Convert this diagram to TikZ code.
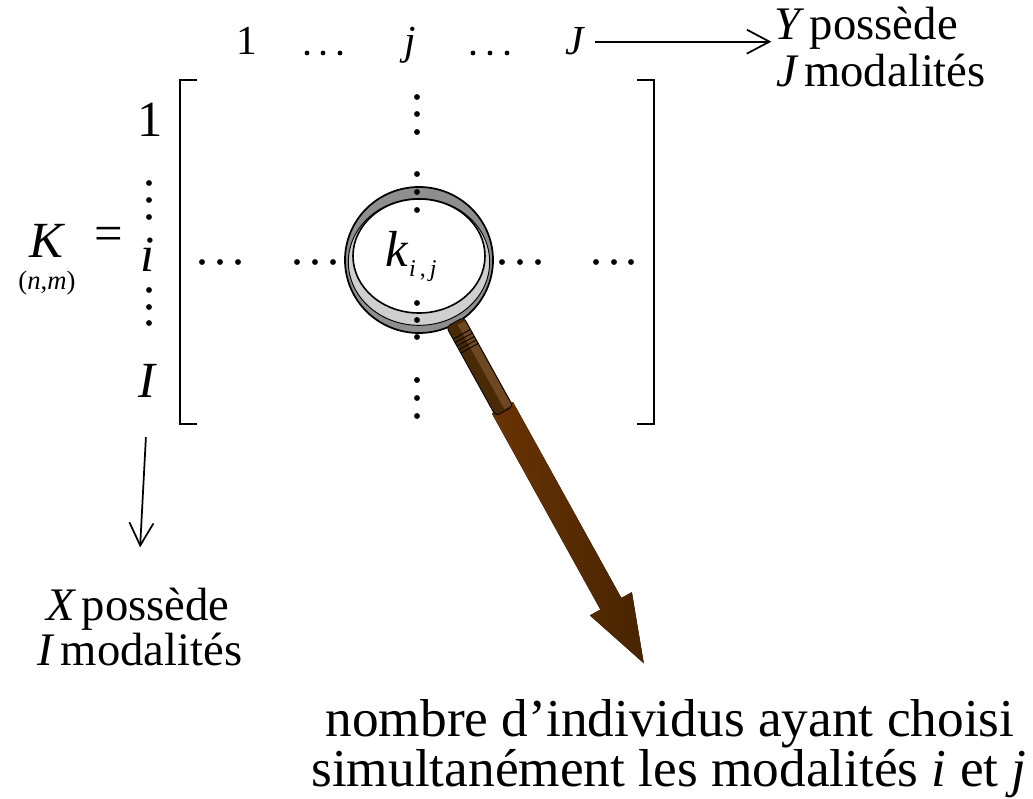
\documentclass[tikz,border=0pt]{standalone}
\usepackage{fontspec}
\setmainfont{Liberation Serif}
\usetikzlibrary{arrows.meta}

\definecolor{rimdark}{HTML}{8E8E8E}
\definecolor{rimlight}{HTML}{CFCFCF}
\definecolor{grip}{HTML}{4A2907}
\definecolor{gripshine}{HTML}{6E4823}
\definecolor{shaftA}{HTML}{6A3304}
\definecolor{shaftB}{HTML}{472400}

\begin{document}
\begin{tikzpicture}[
    x=0.75pt, y=-0.75pt,
    txt/.style={anchor=base, inner sep=0pt},
    head/.style={txt, font=\fontsize{31}{37}\selectfont},
    idx/.style={txt, font=\fontsize{38}{46}\selectfont},
    info/.style={txt, font=\fontsize{35}{42}\selectfont},
    note/.style={txt, font=\fontsize{40}{48}\selectfont},
    bracket/.style={line width=2.2pt},
    arr/.style={line width=1.3pt, -{Straight Barb[length=17pt, width=18pt]}},
]
\useasboundingbox (0,0) rectangle (1033,799);

% En-tete des colonnes
\node[head] (c1) at (247,55) {1};
\node[head] (cj) at (410,55) {\textit{j}};
\node[head] (cJ) at (575,55) {\textit{J}};
\foreach \x in {307,323,340,473,490,507}
    \fill (\x,53) circle (1.8pt);

% Indices des lignes
\node[idx] (r1) at (150,137) {1};
\node[idx] (ri) at (148,272) {\textit{i}};
\node[idx] (rI) at (148,397) {\textit{I}};
\foreach \y in {183,200,217,290,307,323}
    \fill (149,\y) circle (2.2pt);

% K =
\node[idx] (K) at (47,257) {\textit{K}};
\node[txt, font=\fontsize{20}{24}\selectfont] (Kdim) at (47,289) {(\textit{n},\textit{m})};
\node[idx, anchor=center] (eq) at (109,239) {=};

% Crochets
\draw[bracket] (197,80) -- (180,80) -- (180,424) -- (197,424);
\draw[bracket] (637,80) -- (654,80) -- (654,424) -- (637,424);

% Loupe
\draw[fill=rimdark, line width=1.3pt] (419,260) ellipse [x radius=55.5pt, y radius=54.75pt];
\draw[fill=rimlight, line width=0.7pt] (419,262) ellipse [x radius=53pt, y radius=47.5pt];
\draw[fill=white, line width=1.2pt] (419,256) ellipse [x radius=49.5pt, y radius=42.75pt];

\begin{scope}[shift={(455,322)}, rotate=-61.05]
    \fill[left color=shaftA, right color=shaftB]
        (98,-12) -- (322,-12) -- (322,-24) -- (390,0) -- (322,24) -- (322,12) -- (98,12) -- cycle;
    \draw[fill=grip, line width=0.6pt, rounded corners=3pt] (0,-10) rectangle (102,10);
    \fill[gripshine] (4,-9) rectangle (100,-1);
    \foreach \a in {14,18,22,26,30}
        \draw[line width=0.6pt] (\a,-10) -- (\a,10);
\end{scope}

% Points de suspension
\foreach \x in {202,220,238,297,315,333,502,520,538,596,614,631}
    \fill (\x,262) circle (2.2pt);
\foreach \y in {97,114,132,174,192,210,303,320,337,380,398,416}
    \fill (417,\y) circle (2.2pt);

% Element k_{i,j}
\node[idx] (kij) at (397,267) {\textit{k}};
\node[txt, anchor=base west, font=\fontsize{18}{22}\selectfont] (kidx)
    at ([yshift=-7pt]kij.base east) {\textit{i}\,,\,\textit{j}};

% Modalites de Y
\node[info] (ydesc) at (866,40) {\textit{Y}\hspace{0.12em}possède};
\node[info] (ymod) at (881,87) {\textit{J}\hspace{0.12em}modalités};
\draw[arr, shorten <=7pt, shorten >=2pt] (cJ.east) -- (cJ.east -| ydesc.west);

% Modalites de X
\node[info] (xdesc) at (138,620) {\textit{X}\hspace{0.12em}possède};
\node[info] (xmod) at (140,665) {\textit{I}\hspace{0.12em}modalités};
\draw[arr, shorten <=30pt, shorten >=30pt] (rI.south) -- (xdesc.north);

% Legende
\node[note] (note1) at (670,736) {nombre d’individus ayant choisi};
\node[note] (note2) at (669,786) {simultanément les modalités \textit{i} et \textit{j}};

\end{tikzpicture}
\end{document}
